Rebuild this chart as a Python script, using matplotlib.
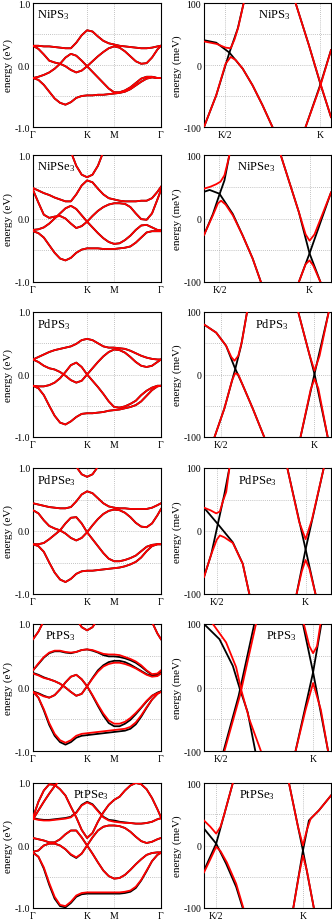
import matplotlib
matplotlib.use("Agg")
import matplotlib.pyplot as plt

plt.rcParams['font.family'] = ['Liberation Serif', 'DejaVu Serif']
plt.rcParams['mathtext.fontset'] = 'custom'
plt.rcParams['mathtext.rm'] = 'Liberation Serif'
plt.rcParams['mathtext.it'] = 'Liberation Serif:italic'

# ---------------- data ----------------
K_PATH = [0.0, 0.1, 0.2, 0.3, 0.4, 0.5, 0.6, 0.7, 0.8, 0.9, 1.0, 1.1, 1.2, 1.3, 1.4, 1.5,
          1.6, 1.7, 1.8, 1.9, 2.0, 2.1, 2.2, 2.3, 2.366]
PATH_TICKS = [0.0, 1.0, 1.5, 2.366]
PATH_LABELS = ['Γ', 'K', 'M', 'Γ']

NAMES = ['NiPS$_3$', 'NiPSe$_3$', 'PdPS$_3$', 'PdPSe$_3$', 'PtPS$_3$', 'PtPSe$_3$']

# left panels (eV) -- full-path bands
NIPS3_BANDS = [
    [0.31,0.31,0.30,0.30,0.29,0.28,0.27,0.27,0.36,0.48,0.56,0.54,0.46,0.39,0.35,0.33,0.31,0.30,0.29,0.28,0.27,0.27,0.28,0.30,0.31],
    [0.31,0.26,0.17,0.07,0.04,0.02,-0.02,-0.08,-0.12,-0.09,-0.02,0.06,0.14,0.21,0.27,0.30,0.28,0.22,0.14,0.06,0.02,0.03,0.12,0.25,0.31],
    [-0.21,-0.19,-0.16,-0.12,-0.06,0.02,0.12,0.18,0.15,0.07,-0.02,-0.11,-0.20,-0.29,-0.38,-0.44,-0.44,-0.41,-0.36,-0.29,-0.22,-0.19,-0.19,-0.21,-0.21],
    [-0.21,-0.24,-0.32,-0.43,-0.54,-0.61,-0.64,-0.60,-0.53,-0.50,-0.49,-0.49,-0.48,-0.48,-0.47,-0.46,-0.45,-0.43,-0.39,-0.33,-0.27,-0.22,-0.20,-0.21,-0.21],
]
NIPS3_EXTRA = []

NIPSE3_BANDS = [
    [0.48,0.44,0.40,0.37,0.33,0.30,0.27,0.27,0.38,0.52,0.60,0.57,0.47,0.38,0.32,0.30,0.28,0.27,0.27,0.27,0.28,0.28,0.32,0.42,0.50],
    [0.45,0.25,0.06,0.01,0.03,0.04,0.00,-0.08,-0.15,-0.12,-0.05,0.04,0.12,0.18,0.22,0.24,0.24,0.23,0.18,0.08,-0.01,-0.02,0.08,0.30,0.45],
    [-0.18,-0.17,-0.14,-0.08,0.00,0.08,0.16,0.20,0.15,0.05,-0.05,-0.14,-0.23,-0.31,-0.37,-0.40,-0.39,-0.34,-0.27,-0.18,-0.11,-0.10,-0.14,-0.18,-0.18],
    [-0.20,-0.23,-0.30,-0.42,-0.54,-0.63,-0.66,-0.62,-0.54,-0.49,-0.47,-0.47,-0.47,-0.48,-0.48,-0.48,-0.47,-0.46,-0.44,-0.38,-0.30,-0.22,-0.20,-0.20,-0.20],
]
NIPSE3_EXTRA = [[[0.7, 0.8, 0.9, 1.0, 1.1, 1.2, 1.3], [1.05, 0.83, 0.69, 0.65, 0.69, 0.83, 1.05]]]

PDPS3_BANDS = [
    [0.24,0.28,0.32,0.36,0.39,0.41,0.43,0.45,0.49,0.55,0.57,0.55,0.50,0.45,0.43,0.43,0.42,0.41,0.38,0.34,0.30,0.27,0.25,0.24,0.24],
    [0.24,0.20,0.14,0.10,0.08,0.04,-0.02,-0.09,-0.13,-0.10,0.00,0.10,0.20,0.29,0.36,0.40,0.39,0.35,0.28,0.20,0.14,0.12,0.14,0.20,0.24],
    [-0.18,-0.19,-0.19,-0.17,-0.13,-0.06,0.04,0.15,0.19,0.12,0.00,-0.10,-0.20,-0.31,-0.43,-0.52,-0.53,-0.51,-0.47,-0.42,-0.33,-0.26,-0.21,-0.18,-0.18],
    [-0.18,-0.22,-0.33,-0.50,-0.66,-0.77,-0.80,-0.75,-0.68,-0.63,-0.62,-0.62,-0.61,-0.60,-0.58,-0.57,-0.56,-0.54,-0.52,-0.49,-0.43,-0.34,-0.25,-0.19,-0.18],
]
PDPS3_EXTRA = []

PDPSE3_BANDS = [
    [0.44,0.42,0.40,0.38,0.37,0.36,0.36,0.38,0.47,0.58,0.63,0.60,0.52,0.44,0.39,0.37,0.36,0.36,0.35,0.35,0.35,0.35,0.37,0.41,0.44],
    [0.33,0.28,0.17,0.08,0.04,0.01,-0.04,-0.11,-0.15,-0.11,-0.02,0.09,0.19,0.27,0.32,0.34,0.33,0.29,0.22,0.13,0.07,0.06,0.12,0.25,0.35],
    [-0.21,-0.21,-0.19,-0.13,-0.06,0.01,0.12,0.21,0.22,0.12,-0.02,-0.13,-0.24,-0.35,-0.44,-0.48,-0.48,-0.46,-0.43,-0.39,-0.32,-0.25,-0.22,-0.21,-0.21],
    [-0.21,-0.24,-0.33,-0.50,-0.66,-0.77,-0.81,-0.76,-0.68,-0.64,-0.63,-0.63,-0.62,-0.61,-0.60,-0.59,-0.58,-0.56,-0.53,-0.49,-0.42,-0.32,-0.24,-0.21,-0.21],
]
PDPSE3_EXTRA = [[[0.8, 0.9, 1.0, 1.1, 1.2], [1.02, 0.90, 0.86, 0.90, 1.02]]]

PTPS3_BANDS = [
    [0.27,0.38,0.48,0.55,0.58,0.58,0.56,0.55,0.56,0.59,0.60,0.59,0.56,0.53,0.52,0.52,0.51,0.48,0.45,0.41,0.35,0.27,0.21,0.22,0.27],
    [0.22,0.19,0.15,0.13,0.10,0.06,0.00,-0.07,-0.13,-0.10,0.02,0.14,0.25,0.33,0.37,0.39,0.39,0.37,0.34,0.30,0.25,0.20,0.17,0.18,0.22],
    [-0.07,-0.10,-0.14,-0.16,-0.12,-0.03,0.08,0.17,0.20,0.13,0.02,-0.12,-0.27,-0.41,-0.52,-0.57,-0.57,-0.54,-0.48,-0.40,-0.31,-0.21,-0.13,-0.09,-0.07],
    [-0.07,-0.16,-0.34,-0.56,-0.73,-0.83,-0.87,-0.83,-0.76,-0.73,-0.72,-0.71,-0.70,-0.69,-0.68,-0.67,-0.66,-0.65,-0.62,-0.55,-0.44,-0.31,-0.19,-0.10,-0.07],
]
PTPS3_BANDS_BLACK = [
    [0.27,0.37,0.47,0.54,0.57,0.57,0.55,0.54,0.56,0.59,0.60,0.58,0.55,0.51,0.49,0.49,0.48,0.46,0.43,0.39,0.33,0.26,0.20,0.21,0.26],
    [0.23,0.20,0.16,0.13,0.10,0.06,0.00,-0.07,-0.13,-0.10,0.02,0.15,0.27,0.35,0.40,0.42,0.42,0.40,0.36,0.31,0.26,0.21,0.18,0.19,0.23],
    [-0.06,-0.09,-0.13,-0.16,-0.12,-0.03,0.08,0.17,0.20,0.13,0.02,-0.13,-0.29,-0.44,-0.56,-0.61,-0.61,-0.57,-0.51,-0.42,-0.32,-0.22,-0.13,-0.08,-0.06],
    [-0.06,-0.16,-0.36,-0.59,-0.76,-0.86,-0.90,-0.86,-0.79,-0.76,-0.75,-0.74,-0.73,-0.72,-0.71,-0.70,-0.69,-0.68,-0.65,-0.58,-0.46,-0.32,-0.19,-0.10,-0.06],
]
PTPS3_EXTRA = [
    [[0.0, 0.1, 0.2], [0.76, 0.88, 1.05]],
    [[2.2, 2.3, 2.366], [1.03, 0.85, 0.76]],
    [[0.8, 0.9, 1.0, 1.1, 1.2], [1.08, 0.95, 0.90, 0.95, 1.08]],
]

PTPSE3_BANDS = [
    [0.45,0.70,0.88,0.98,0.97,0.90,0.80,0.62,0.45,0.25,0.12,0.20,0.38,0.53,0.65,0.73,0.78,0.88,0.96,1.00,0.98,0.90,0.76,0.58,0.45],
    [0.43,0.41,0.40,0.40,0.41,0.42,0.43,0.45,0.52,0.64,0.69,0.65,0.55,0.45,0.40,0.38,0.37,0.36,0.36,0.35,0.35,0.36,0.38,0.42,0.43],
    [0.12,0.10,0.08,0.05,0.05,0.10,0.18,0.24,0.24,0.13,0.00,-0.13,-0.27,-0.40,-0.49,-0.53,-0.52,-0.47,-0.39,-0.30,-0.22,-0.15,-0.12,-0.11,-0.11],
    [-0.10,-0.08,0.00,0.03,0.03,0.00,-0.06,-0.14,-0.19,-0.13,0.00,0.13,0.24,0.30,0.32,0.32,0.31,0.28,0.22,0.14,0.07,0.04,0.06,0.10,0.12],
    [-0.12,-0.18,-0.35,-0.60,-0.82,-0.95,-0.97,-0.90,-0.80,-0.76,-0.75,-0.75,-0.75,-0.75,-0.75,-0.75,-0.75,-0.74,-0.72,-0.66,-0.55,-0.40,-0.25,-0.15,-0.12],
]
PTPSE3_BANDS_BLACK = [
    [0.45,0.70,0.88,0.98,0.97,0.90,0.80,0.62,0.45,0.25,0.12,0.20,0.38,0.53,0.65,0.73,0.78,0.88,0.96,1.00,0.98,0.90,0.76,0.58,0.45],
    [0.44,0.42,0.41,0.41,0.42,0.43,0.44,0.46,0.53,0.65,0.70,0.66,0.56,0.46,0.41,0.40,0.38,0.37,0.36,0.35,0.35,0.36,0.38,0.42,0.44],
    [0.12,0.10,0.08,0.05,0.05,0.10,0.18,0.24,0.24,0.13,0.00,-0.13,-0.27,-0.40,-0.49,-0.53,-0.52,-0.47,-0.39,-0.30,-0.22,-0.15,-0.12,-0.11,-0.11],
    [-0.10,-0.08,0.00,0.03,0.03,0.00,-0.06,-0.15,-0.20,-0.13,0.00,0.13,0.24,0.30,0.32,0.32,0.31,0.28,0.22,0.14,0.07,0.04,0.06,0.10,0.12],
    [-0.11,-0.18,-0.37,-0.63,-0.85,-0.97,-0.99,-0.92,-0.82,-0.78,-0.77,-0.77,-0.77,-0.77,-0.77,-0.77,-0.77,-0.76,-0.74,-0.68,-0.56,-0.41,-0.25,-0.15,-0.11],
]
PTPSE3_EXTRA = [[[0.0, 0.1, 0.2, 0.3, 0.4, 0.5], [0.42, 0.56, 0.70, 0.83, 0.95, 1.06]]]

# right panels (meV) -- x in fraction of the zoom window
ZOOM_TICKS = [[0.167, 0.917], [0.122, 0.831], [0.135, 0.870], [0.104, 0.800], [0.130, 0.859], [0.096, 0.779]]
ZOOM_LABELS = ['K/2', 'K']

NIPS3_Z_BLACK = [
    [[0, 0.096, 0.2, 0.305, 0.383, 0.461, 0.539], [40, 36, 20, -6, -33, -65, -100]],
    [[0, 0.096, 0.2, 0.266, 0.3125], [-100, -49, 20, 59, 100]],
    [[0.721, 0.826, 0.917, 1.0], [100, 32, -31, -84]],
    [[0.8, 0.917, 1.0], [-100, -31, 24]],
]
NIPS3_Z_RED = [
    [[0, 0.1, 0.17, 0.21, 0.24, 0.27, 0.3125], [38, 34, 28, 27, 41, 61, 100]],
    [[0, 0.096, 0.17, 0.21, 0.25, 0.305, 0.383, 0.461, 0.539], [-100, -49, 2, 13, 8, -6, -33, -65, -100]],
    [[0.721, 0.826, 0.917, 1.0], [100, 32, -30, -84]],
    [[0.8, 0.917, 1.0], [-100, -33, 24]],
]
NIPSE3_Z_BLACK = [
    [[0, 0.044, 0.122, 0.227, 0.305, 0.383, 0.448], [42, 45, 39, 7, -27, -63, -100]],
    [[0, 0.07, 0.122, 0.161, 0.2], [-26, 7, 38, 60, 100]],
    [[0.604, 0.747, 0.831, 0.917], [100, 10, -55, -100]],
    [[0.747, 0.831, 1.0], [-100, -55, 41]],
]
NIPSE3_Z_RED = [
    [[0, 0.05, 0.096, 0.13, 0.161, 0.185, 0.2], [47, 50, 54, 58, 68, 87, 100]],
    [[0, 0.07, 0.11, 0.135, 0.17, 0.227, 0.305, 0.383, 0.448], [-26, 5, 24, 28, 22, 5, -27, -63, -100]],
    [[0.604, 0.747, 0.8, 0.831, 0.87, 1.0], [100, 10, -25, -35, -25, 41]],
    [[0.747, 0.8, 0.831, 0.86, 0.917], [-100, -72, -66, -74, -100]],
]
PDPS3_Z_BLACK = [
    [[0, 0.096, 0.174, 0.24, 0.305, 0.383, 0.474], [80, 67, 46, 12, -17, -54, -100]],
    [[0.083, 0.161, 0.245, 0.292, 0.339], [-100, -54, 8, 46, 100]],
    [[0.742, 0.87, 0.974], [100, 1, -100]],
    [[0.76, 0.87, 0.982], [-100, 1, 100]],
]
PDPS3_Z_RED = [
    [[0, 0.096, 0.174, 0.215, 0.24, 0.27, 0.3, 0.339], [80, 67, 46, 28, 22, 30, 54, 100]],
    [[0.083, 0.161, 0.22, 0.245, 0.27, 0.305, 0.383, 0.474], [-100, -54, -10, 2, 0, -17, -54, -100]],
    [[0.742, 0.83, 0.87, 0.91, 0.982], [100, 32, 6, 30, 100]],
    [[0.76, 0.84, 0.87, 0.9, 0.974], [-100, -24, -7, -22, -100]],
]
PDPSE3_Z_BLACK = [
    [[0, 0.109, 0.227, 0.305, 0.357], [37, 11, -18, -52, -100]],
    [[0, 0.057, 0.109, 0.161, 0.2], [-73, -37, 11, 59, 100]],
    [[0.656, 0.8, 0.878], [100, -29, -100]],
    [[0.729, 0.8, 0.943], [-100, -29, 100]],
]
PDPSE3_Z_RED = [
    [[0, 0.05, 0.096, 0.125, 0.15, 0.175, 0.2], [37, 33, 28, 31, 48, 62, 100]],
    [[0, 0.057, 0.1, 0.125, 0.16, 0.227, 0.305, 0.357], [-73, -37, -14, -7, -10, -19, -52, -100]],
    [[0.656, 0.75, 0.8, 0.85, 0.943], [100, 14, -13, 18, 100]],
    [[0.729, 0.77, 0.8, 0.83, 0.878], [-100, -64, -46, -60, -100]],
]
PTPS3_Z_BLACK = [
    [[0, 0.122, 0.227, 0.279, 0.344, 0.404], [100, 76, 34, 0, -39, -100]],
    [[0.154, 0.273, 0.396], [-100, -13, 100]],
    [[0.779, 0.859, 0.977], [100, 24, -100]],
    [[0.721, 0.859, 0.924], [-100, 24, 100]],
]
PTPS3_Z_RED = [
    [[0.07, 0.174, 0.253, 0.292, 0.357, 0.448], [100, 71, 32, -3, -50, -100]],
    [[0.161, 0.284, 0.409], [-100, -12, 100]],
    [[0.786, 0.83, 0.859, 0.89, 0.917], [100, 65, 54, 65, 100]],
    [[0.721, 0.8, 0.859, 0.92, 0.977], [-100, -35, 7, -35, -100]],
]
PTPSE3_Z_BLACK = [
    [[0, 0.096, 0.174, 0.253, 0.305], [27, 3, -29, -66, -100]],
    [[0, 0.096, 0.161, 0.227], [-40, 3, 51, 100]],
    [[0.669, 0.779, 0.865], [100, -8, -100]],
    [[0.703, 0.779, 0.826, 0.904, 1.0], [-100, -8, 40, 56, 80]],
]
PTPSE3_Z_RED = [
    [[0, 0.05, 0.096, 0.13, 0.161, 0.2, 0.227], [40, 30, 19, 30, 51, 80, 100]],
    [[0, 0.05, 0.096, 0.13, 0.18, 0.253, 0.31], [-43, -22, -2, -9, -27, -61, -100]],
    [[0.669, 0.74, 0.779, 0.81, 0.84, 0.904, 1.0], [100, 30, 0, 25, 43, 56, 80]],
    [[0.703, 0.75, 0.779, 0.81, 0.865], [-100, -45, -16, -40, -100]],
]

LEFT_RED = [NIPS3_BANDS, NIPSE3_BANDS, PDPS3_BANDS, PDPSE3_BANDS, PTPS3_BANDS, PTPSE3_BANDS]
LEFT_BLACK = [NIPS3_BANDS, NIPSE3_BANDS, PDPS3_BANDS, PDPSE3_BANDS, PTPS3_BANDS_BLACK, PTPSE3_BANDS_BLACK]
LEFT_EXTRA = [NIPS3_EXTRA, NIPSE3_EXTRA, PDPS3_EXTRA, PDPSE3_EXTRA, PTPS3_EXTRA, PTPSE3_EXTRA]
RIGHT_BLACK = [NIPS3_Z_BLACK, NIPSE3_Z_BLACK, PDPS3_Z_BLACK, PDPSE3_Z_BLACK, PTPS3_Z_BLACK, PTPSE3_Z_BLACK]
RIGHT_RED = [NIPS3_Z_RED, NIPSE3_Z_RED, PDPS3_Z_RED, PDPSE3_Z_RED, PTPS3_Z_RED, PTPSE3_Z_RED]

# layout (pixels)
ROWS_PX = [(4, 128), (156, 283), (313, 438), (469, 595), (625, 752), (784, 909)]
LEFT_TITLE_X = [0.03, 0.03, 0.03, 0.03, 0.09, 0.31]
RIGHT_TITLE_X = [0.55, 0.41, 0.53, 0.42, 0.61, 0.42]

W, H = 332, 920
fig = plt.figure(figsize=(W / 100, H / 100), dpi=100)

RED = '#ff0000'
LW = 1.3
GRID = dict(color='#b0b0b0', lw=0.6, ls=(0, (1, 1.5)), zorder=0)


def style(ax):
    for s in ax.spines.values():
        s.set_linewidth(0.8)
    ax.tick_params(length=0, labelsize=7, pad=2)


for i, (t, b) in enumerate(ROWS_PX):
    axL = fig.add_axes([33 / W, 1 - b / H, 128 / W, (b - t) / H])
    for y in (-0.5, 0, 0.5):
        axL.axhline(y, **GRID)
    for x in PATH_TICKS[1:3]:
        axL.axvline(x, **GRID)
    for band in LEFT_BLACK[i]:
        axL.plot(K_PATH, band, color='black', lw=LW, zorder=2)
    for xs, ys in LEFT_EXTRA[i]:
        axL.plot(xs, ys, color='black', lw=LW, zorder=2)
    for band in LEFT_RED[i]:
        axL.plot(K_PATH, band, color=RED, lw=LW, zorder=3)
    for xs, ys in LEFT_EXTRA[i]:
        axL.plot(xs, ys, color=RED, lw=LW, zorder=3)
    axL.set_xlim(0, 2.366)
    axL.set_ylim(-1, 1)
    axL.set_xticks(PATH_TICKS)
    axL.set_xticklabels(PATH_LABELS)
    axL.set_yticks([-1, -0.5, 0, 0.5, 1])
    axL.set_yticklabels(['-1.0', '', '0.0', '', '1.0'])
    axL.set_ylabel('energy (eV)', fontsize=8, labelpad=1)
    axL.text(LEFT_TITLE_X[i], 0.965, NAMES[i], transform=axL.transAxes,
             ha='left', va='top', fontsize=9)
    style(axL)

    axR = fig.add_axes([204 / W, 1 - b / H, 127 / W, (b - t) / H])
    for y in (-50, 0, 50):
        axR.axhline(y, **GRID)
    for x in ZOOM_TICKS[i]:
        axR.axvline(x, **GRID)
    for xs, ys in RIGHT_BLACK[i]:
        axR.plot(xs, ys, color='black', lw=LW, zorder=2)
    for xs, ys in RIGHT_RED[i]:
        axR.plot(xs, ys, color=RED, lw=LW, zorder=3)
    axR.set_xlim(0, 1)
    axR.set_ylim(-100, 100)
    axR.set_xticks(ZOOM_TICKS[i])
    axR.set_xticklabels(ZOOM_LABELS)
    axR.set_yticks([-100, -50, 0, 50, 100])
    axR.set_yticklabels(['-100', '', '0', '', '100'])
    axR.set_ylabel('energy (meV)', fontsize=8, labelpad=1)
    axR.text(RIGHT_TITLE_X[i], 0.965, NAMES[i], transform=axR.transAxes,
             ha='center', va='top', fontsize=9)
    style(axR)

fig.savefig('out.png', dpi=100)
